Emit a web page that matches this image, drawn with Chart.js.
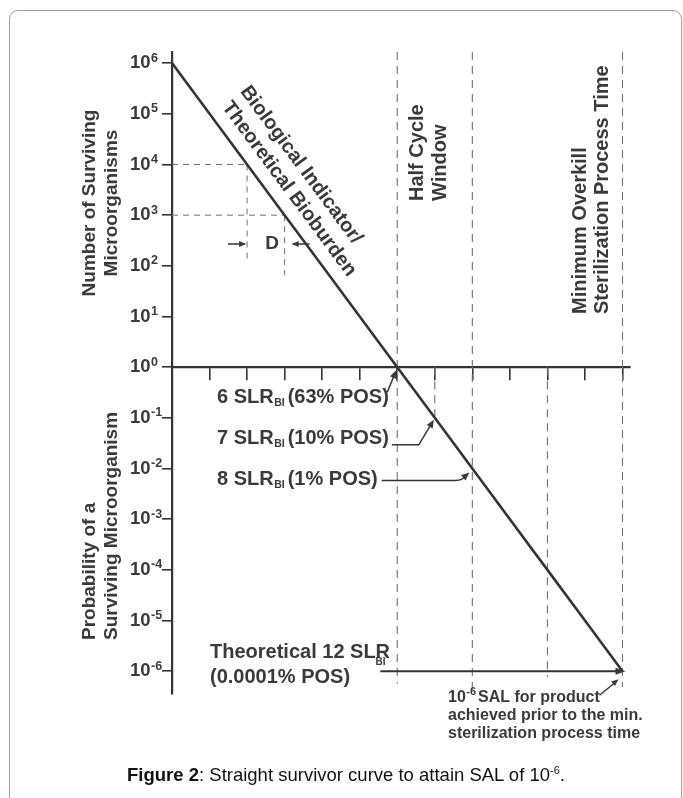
<!DOCTYPE html>
<html>
<head>
<meta charset="utf-8">
<script src="https://cdn.jsdelivr.net/npm/chart.js@4.4.1/dist/chart.umd.min.js"></script>
<style>
  html, body { margin: 0; padding: 0; background: #fff; }
  #wrap { position: relative; width: 683px; height: 798px; overflow: hidden; }
  #frame { position: absolute; left: 9px; top: 10px; width: 673px; height: 830px;
           border: 1px solid #9d9d9d; border-radius: 9px; box-sizing: border-box; }
  #survivorChart { position: absolute; left: 0; top: 0; }
  #caption { position: absolute; left: 0; top: 763px; width: 692px; text-align: center;
             font: 18.5px "Liberation Sans", Arial, sans-serif; color: #111; line-height: 24px; }
  #caption sup { font-size: 11px; line-height: 0; vertical-align: 7px; }
</style>
</head>
<body>
<div id="wrap">
  <div id="frame"></div>
  <canvas id="survivorChart" width="683" height="798"></canvas>
  <div id="caption"><b>Figure 2</b>: Straight survivor curve to attain SAL of 10<sup>-6</sup>.</div>
</div>
<script>
//---------------------------
// DATA
//---------------------------

// exposure time, in D-values
const cycleTime = [0, 1, 2, 3, 4, 5, 6, 7, 8, 9, 10, 11, 12];
// survivors (above 10^0) / probability of a survivor (below 10^0)
const survivors = [1e6, 1e5, 1e4, 1e3, 1e2, 1e1, 1e0, 1e-1, 1e-2, 1e-3, 1e-4, 1e-5, 1e-6];

const decadeExponents = [6, 5, 4, 3, 2, 1, 0, -1, -2, -3, -4, -5, -6];
const timeTicks = [1, 2, 3, 4, 5, 6, 7, 8, 9, 10, 11, 12];

// D-value construction (one log drop)
const dTimes = [2, 3];
const dLevels = [1e4, 1e3];
const dDropTo = [120, 65];

// dashed time markers
const markerTimes = [6, 7, 8, 10, 12];
const markerTops = [1.66e6, 1, 1.66e6, 1, 1.66e6];
const markerBottoms = [5.75e-7, 1e-1, 3.7e-7, 7.6e-7, 4.8e-7];

// 12 SLR arrow to the 10^-6 SAL
const salArrowTimes = [5.55, 12];
const salLevel = 1e-6;

//---------------------------
// CHART
//---------------------------

const ink = '#343434';
const dashInk = '#707070';
const textInk = '#3a3a3a';
const FONT = '"Liberation Sans", Arial, Helvetica, sans-serif';

const datasets = [];

datasets.push({
  data: cycleTime.map((t, i) => ({ x: t, y: survivors[i] })),
  borderColor: ink,
  borderWidth: 2.6
});

datasets.push({
  data: salArrowTimes.map(t => ({ x: t, y: salLevel })),
  borderColor: ink,
  borderWidth: 2
});

dTimes.forEach((t, i) => {
  datasets.push({
    data: [{ x: 0, y: dLevels[i] }, { x: t, y: dLevels[i] }],
    borderColor: dashInk, borderWidth: 1, borderDash: [6, 5]
  });
  datasets.push({
    data: [{ x: t, y: dLevels[i] }, { x: t, y: dDropTo[i] }],
    borderColor: dashInk, borderWidth: 1, borderDash: [6, 5]
  });
});

markerTimes.forEach((t, i) => {
  datasets.push({
    data: [{ x: t, y: markerTops[i] }, { x: t, y: markerBottoms[i] }],
    borderColor: dashInk, borderWidth: 1.1, borderDash: [8, 6], clip: false
  });
});

function arrowHead(ctx, fx, fy, tx, ty, len, half) {
  const a = Math.atan2(ty - fy, tx - fx);
  ctx.beginPath();
  ctx.moveTo(tx, ty);
  ctx.lineTo(tx - len * Math.cos(a) + half * Math.sin(a), ty - len * Math.sin(a) - half * Math.cos(a));
  ctx.lineTo(tx - len * Math.cos(a) - half * Math.sin(a), ty - len * Math.sin(a) + half * Math.cos(a));
  ctx.closePath();
  ctx.fill();
}

// draws a run of text pieces: [text, size, dy, gap]
function pieces(ctx, x, y, list, bold) {
  let cx = x;
  list.forEach(p => {
    ctx.font = (bold ? 'bold ' : '') + p[1] + 'px ' + FONT;
    ctx.fillText(p[0], cx, y + (p[2] || 0));
    cx += ctx.measureText(p[0]).width + (p[3] || 0);
  });
  return cx;
}

function rotText(ctx, text, x, y, angle, align, size) {
  ctx.save();
  ctx.translate(x, y);
  ctx.rotate(angle);
  ctx.textAlign = align;
  ctx.textBaseline = 'middle';
  ctx.font = 'bold ' + size + 'px ' + FONT;
  ctx.fillText(text, 0, 0);
  ctx.restore();
}

const labelPlugin = {
  id: 'figureLabels',
  afterDraw(chart) {
    const { ctx } = chart;
    const xs = chart.scales.x, ys = chart.scales.y;
    const px = v => xs.getPixelForValue(v);
    const py = v => ys.getPixelForValue(v);

    ctx.save();
    ctx.fillStyle = textInk;
    ctx.strokeStyle = ink;
    ctx.textAlign = 'left';
    ctx.textBaseline = 'middle';

    // y tick labels 10^n
    decadeExponents.forEach(e => {
      const yy = py(Math.pow(10, e));
      const ex = e < 0 ? '-' + (-e) : String(e);
      pieces(ctx, 130, yy, [['10', 18.5, 0, 0.5], [ex, 12.5, -5]], true);
    });

    // axis titles
    const up = -Math.PI / 2;
    rotText(ctx, 'Number of Surviving', 90, 203, up, 'center', 19);
    rotText(ctx, 'Microorganisms', 112, 203, up, 'center', 19);
    rotText(ctx, 'Probability of a', 90, 640, up, 'left', 19);
    rotText(ctx, 'Surviving Microorganism', 112, 640, up, 'left', 19);

    // curve label
    const ang = Math.atan2(py(1e-6) - py(1e6), px(12) - px(0));
    rotText(ctx, 'Biological Indicator/', 301, 165, ang, 'center', 20);
    rotText(ctx, 'Theoretical Bioburden', 289, 189, ang, 'center', 20);

    // window labels
    rotText(ctx, 'Half Cycle', 417, 201, up, 'left', 20);
    rotText(ctx, 'Window', 440, 201, up, 'left', 20);
    rotText(ctx, 'Minimum Overkill', 580, 314, up, 'left', 20);
    rotText(ctx, 'Sterilization Process Time', 602, 314, up, 'left', 20);

    // D value
    const dy = 244;
    ctx.font = 'bold 19px ' + FONT;
    ctx.textAlign = 'center';
    ctx.fillText('D', 272, dy);
    ctx.textAlign = 'left';
    ctx.lineWidth = 1.3;
    ctx.beginPath();
    ctx.moveTo(228, dy); ctx.lineTo(px(2) - 2, dy);
    ctx.moveTo(px(3) + 25, dy); ctx.lineTo(px(3) + 8, dy);
    ctx.stroke();
    arrowHead(ctx, 228, dy, px(2) - 1, dy, 7, 3);
    arrowHead(ctx, px(3) + 25, dy, px(3) + 7, dy, 7, 3);

    // SLR labels
    const slr = (lead, pos, yy) => pieces(ctx, 217, yy,
      [[lead + ' SLR', 20, 0, 0.5], ['BI', 10.5, 6, 3], [pos, 20, 0]], true);
    slr('6', '(63% POS)', 397);
    const e7 = slr('7', '(10% POS)', 438);
    const e8 = slr('8', '(1% POS)', 479);

    ctx.lineWidth = 1.5;
    // 6 SLR -> (6, 10^0)
    let tx = px(6) - 1, ty = py(1) + 3;
    ctx.beginPath(); ctx.moveTo(tx - 9, ty + 22); ctx.lineTo(tx - 2, ty + 5); ctx.stroke();
    arrowHead(ctx, tx - 9, ty + 22, tx, ty, 8, 3.5);
    // 7 SLR -> (7, 10^-1)
    tx = px(7) - 1; ty = py(0.1) + 2;
    ctx.beginPath(); ctx.moveTo(e7 + 3, ty + 25); ctx.lineTo(tx - 15, ty + 25); ctx.lineTo(tx - 3, ty + 5); ctx.stroke();
    arrowHead(ctx, tx - 15, ty + 25, tx, ty, 8, 3.5);
    // 8 SLR -> (8, 10^-2)
    tx = px(8) - 3; ty = py(0.01) + 4;
    ctx.beginPath(); ctx.moveTo(e8 + 4, ty + 8); ctx.lineTo(tx - 14, ty + 8);
    ctx.quadraticCurveTo(tx - 6, ty + 8, tx - 3, ty + 2); ctx.stroke();
    arrowHead(ctx, tx - 8, ty + 7, tx, ty, 8, 3.5);

    // 12 SLR arrow head
    arrowHead(ctx, px(salArrowTimes[0]), py(salLevel), px(12) + 3, py(salLevel), 10, 3.5);

    // Theoretical 12 SLR
    const rEnd = pieces(ctx, 210, 652, [['Theoretical 12 SLR', 20, 0]], true);
    ctx.font = 'bold 20px ' + FONT;
    const rW = ctx.measureText('R').width;
    pieces(ctx, rEnd - rW, 662, [['BI', 10, 0]], true);
    pieces(ctx, 210, 677, [['(0.0001% POS)', 20, 0]], true);

    // SAL note
    tx = px(12) - 4; ty = py(salLevel) + 8;
    ctx.lineWidth = 1.4;
    ctx.beginPath(); ctx.moveTo(tx - 19, ty + 16); ctx.lineTo(tx - 3, ty + 3); ctx.stroke();
    arrowHead(ctx, tx - 19, ty + 16, tx, ty, 7, 3);
    pieces(ctx, 448, 698, [['10', 16, 0, 0.5], ['-6', 11, -6, 2], ['SAL for product', 16, 0]], true);
    pieces(ctx, 448, 716, [['achieved prior to the min.', 16, 0]], true);
    pieces(ctx, 448, 734, [['sterilization process time', 16, 0]], true);

    ctx.restore();
  }
};

new Chart(document.getElementById('survivorChart'), {
  type: 'line',
  data: { datasets: datasets },
  options: {
    responsive: false,
    animation: false,
    elements: { point: { radius: 0 }, line: { tension: 0 } },
    layout: { padding: { left: 162, right: 53, top: 52, bottom: 104 } },
    plugins: { legend: { display: false }, tooltip: { enabled: false } },
    scales: {
      x: {
        type: 'linear',
        min: 0,
        max: 12.2,
        position: { y: 1 },
        afterBuildTicks: s => { s.ticks = timeTicks.map(v => ({ value: v })); },
        afterFit: s => { s.height = 10; },
        ticks: { display: false },
        grid: { drawOnChartArea: false, drawTicks: true, tickLength: 12, color: ink, lineWidth: 1.6 },
        border: { color: ink, width: 2.2 }
      },
      y: {
        type: 'logarithmic',
        min: Math.pow(10, -6.45),
        max: Math.pow(10, 6.22),
        afterBuildTicks: s => { s.ticks = decadeExponents.map(e => ({ value: Math.pow(10, e) })); },
        afterFit: s => { s.width = 10; },
        ticks: { display: false },
        grid: { drawOnChartArea: false, drawTicks: true, tickLength: 10, color: ink, lineWidth: 1.6 },
        border: { color: ink, width: 2.2 }
      }
    }
  },
  plugins: [labelPlugin]
});
</script>
</body>
</html>
